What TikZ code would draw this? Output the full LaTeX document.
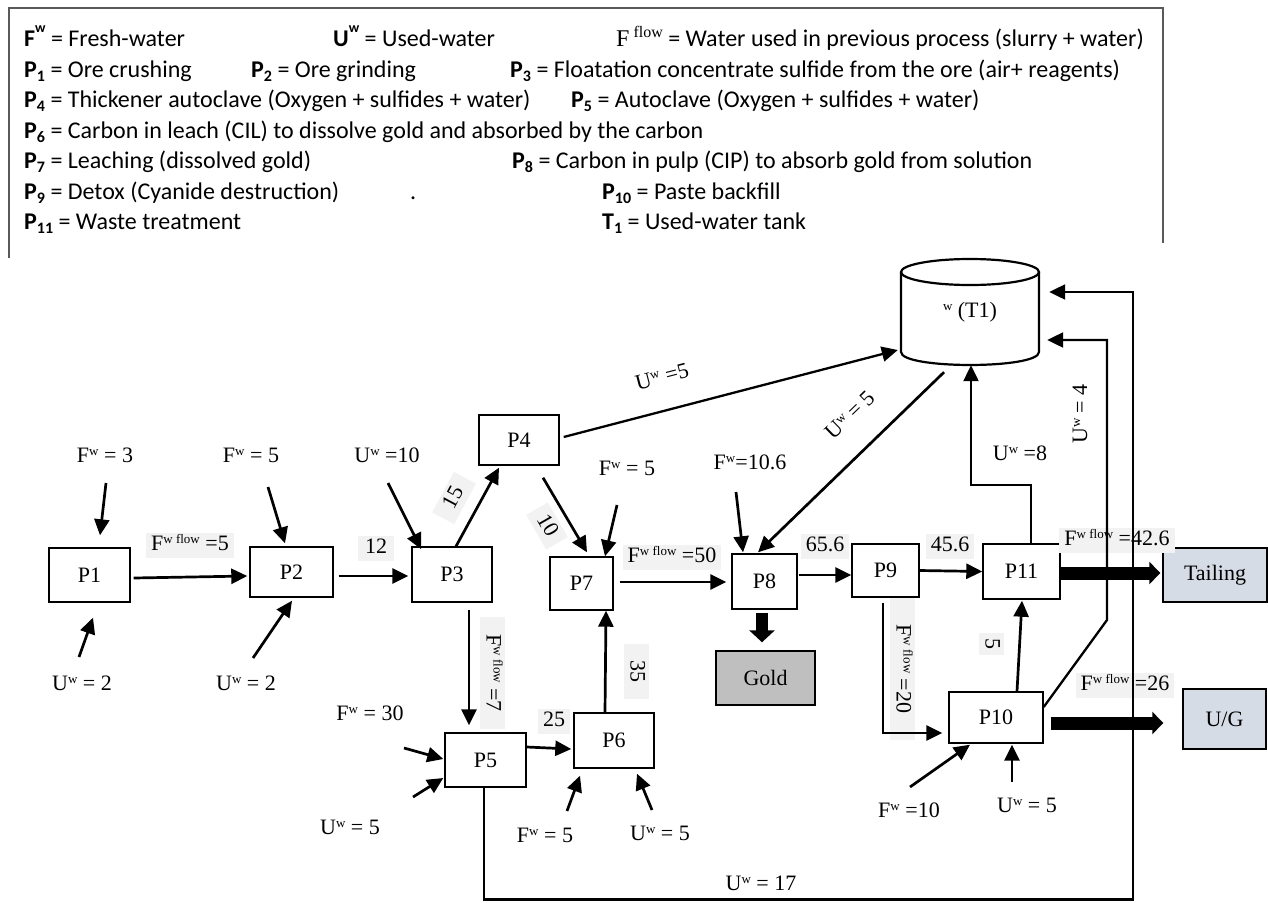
\documentclass[tikz,border=0pt]{standalone}
\usepackage{fontspec}
\setmainfont{Carlito}
\newfontfamily\tms{Liberation Serif}
\usetikzlibrary{arrows.meta,calc}
\definecolor{lblbg}{HTML}{F2F2F2}
\definecolor{goldfill}{HTML}{BFBFBF}
\definecolor{tailfill}{HTML}{D6DCE5}
\newcommand\lgP[1]{\textbf{P\raisebox{-4pt}{\fontsize{16}{16}\selectfont\bfseries #1}}}
\newcommand\lgT[1]{\textbf{T\raisebox{-4pt}{\fontsize{16}{16}\selectfont\bfseries #1}}}
\newcommand\lgsup[1]{\textbf{#1}\raisebox{14pt}{\fontsize{14}{14}\selectfont\bfseries w}}
\newcommand\sw[1]{\raisebox{7pt}{\fontsize{13}{13}\selectfont #1}}
\tikzset{
  lg/.style={anchor=base west, inner sep=0pt, font=\fontsize{24}{28}\selectfont},
  legline/.style={line width=1.3pt, draw=black!65},
  pbox/.style={draw, line width=1.4pt, inner sep=0pt, font=\tms\fontsize{22}{26}\selectfont},
  lbl/.style={inner sep=0pt, font=\tms\fontsize{22}{26}\selectfont},
  vbg/.style={fill=lblbg, inner xsep=5pt, inner ysep=2pt, text height=16pt, text depth=5pt, font=\tms\fontsize{22}{26}\selectfont},
  flow/.style={-{Triangle[length=16pt,width=15pt]}, line width=2.7pt},
  pipe/.style={-{Triangle[length=16pt,width=15pt]}, line width=2.3pt},
  fat/.style={-{Triangle[length=11pt,width=22pt]}, line width=13pt},
  fatv/.style={-{Triangle[length=12pt,width=25pt]}, line width=12pt},
  cyl/.style={line width=2.2pt},
}
\begin{document}
\begin{tikzpicture}[x=1pt,y=-1pt]
\useasboundingbox (0,0) rectangle (1268,902);
% ---------------- legend ----------------
\draw[legline] (9,258) -- (9,8) -- (1163,8) -- (1163,243);
\node[lg] (l1a) at (24,46) {\lgsup{F} = Fresh-water};
\node[lg] (l1b) at (333,46) {\lgsup{U} = Used-water};
\node[lg] (l1c) at (616,46) {{\tms F\,\raisebox{9pt}{\fontsize{16}{16}\selectfont flow}} = Water used in previous process (slurry + water)};
\node[lg] (l2a) at (24,77) {\lgP{1} = Ore crushing};
\node[lg] (l2b) at (251,77) {\lgP{2} = Ore grinding};
\node[lg] (l2c) at (510,77) {\lgP{3} = Floatation concentrate sulfide from the ore (air+ reagents)};
\node[lg] (l3a) at (24,107) {\lgP{4} = Thickener autoclave (Oxygen + sulfides + water)};
\node[lg] (l3b) at (571,107) {\lgP{5} = Autoclave (Oxygen + sulfides + water)};
\node[lg] (l4a) at (24,138) {\lgP{6} = Carbon in leach (CIL) to dissolve gold and absorbed by the carbon};
\node[lg] (l5a) at (24,168) {\lgP{7} = Leaching (dissolved gold)};
\node[lg] (l5b) at (512,168) {\lgP{8} = Carbon in pulp (CIP) to absorb gold from solution};
\node[lg] (l6a) at (24,199) {\lgP{9} = Detox (Cyanide destruction)};
\node[lg] (l6b) at (410,199) {.};
\node[lg] (l6c) at (602,199) {\lgP{10} = Paste backfill};
\node[lg] (l7a) at (24,229) {\lgP{11} = Waste treatment};
\node[lg] (l7b) at (602,229) {\lgT{1} = Used-water tank};
% ---------------- tank ----------------
\draw[cyl, fill=white] (901,272) -- (901,352) .. controls (901,369.3) and (1039,369.3) .. (1039,352) -- (1039,272);
\draw[cyl, fill=white] (970,272) ellipse [x radius=69pt, y radius=13pt];
\node[lbl, minimum width=138pt, minimum height=106pt] (t1) at (970,312) {\sw{w} (T1)};
% ---------------- boxes ----------------
\node[pbox, minimum width=81pt, minimum height=54pt] (p1) at (89.5,575) {P1};
\node[pbox, minimum width=83pt, minimum height=50pt] (p2) at (291.5,572) {P2};
\node[pbox, minimum width=80pt, minimum height=55pt] (p3) at (452,574.5) {P3};
\node[pbox, minimum width=80pt, minimum height=50pt] (p4) at (519,440) {P4};
\node[pbox, minimum width=81pt, minimum height=54pt] (p5) at (485.5,760) {P5};
\node[pbox, minimum width=80pt, minimum height=55pt] (p6) at (614,740.5) {P6};
\node[pbox, minimum width=63pt, minimum height=53pt] (p7) at (581.5,583.5) {P7};
\node[pbox, minimum width=65pt, minimum height=55pt] (p8) at (764.5,581.5) {P8};
\node[pbox, minimum width=67pt, minimum height=53pt] (p9) at (885.5,570.5) {P9};
\node[pbox, minimum width=94pt, minimum height=51pt] (p10) at (996,717.5) {P10};
\node[pbox, minimum width=77pt, minimum height=55pt] (p11) at (1021.5,571.5) {P11};
\node[pbox, fill=tailfill, minimum width=104pt, minimum height=54pt] (tail) at (1215,575) {Tailing};
\node[pbox, fill=tailfill, minimum width=83pt, minimum height=60pt] (ug) at (1224.5,719) {U/G};
\node[pbox, fill=goldfill, minimum width=99pt, minimum height=54pt] (gold) at (765.5,678) {Gold};
% ---------------- shaded labels ----------------
\node[vbg] (fl1) at (190,545) {F\sw{w flow} =5};
\node[vbg, inner xsep=7pt] (n12) at (376,548) {12};
\node[vbg, rotate=62, minimum width=46pt] (n15) at (454,498) {15};
\node[vbg, rotate=-60, minimum width=40pt] (n10) at (547,526) {10};
\node[vbg] (fl50) at (672,557) {F\sw{w flow} =50};
\node[vbg] (n656) at (825,546) {65.6};
\node[vbg] (n456) at (950,546) {45.6};
\node[vbg] (fl426) at (1117,540) {F\sw{w flow} =42.6};
\node[vbg] (fl26) at (1125,685) {F\sw{w flow} =26};
\node[vbg, rotate=-90, minimum width=142pt] (fl20) at (902,669) {F\sw{w flow} =20};
\node[vbg, rotate=-90, minimum width=22pt] (n5) at (991,644) {5};
\node[vbg, rotate=-90, minimum width=112pt] (fl7) at (492,673) {F\sw{w flow} =7};
\node[vbg] (n25) at (554,721) {25};
\node[vbg, rotate=-90, minimum width=55pt] (n35) at (636,671) {35};
% ---------------- plain labels ----------------
\node[lbl] (lf3) at (105,455) {F\sw{w} = 3};
\node[lbl] (lf5a) at (251,455) {F\sw{w} = 5};
\node[lbl] (lu10) at (387,455) {U\sw{w} =10};
\node[lbl] (lu2a) at (82,683) {U\sw{w} = 2};
\node[lbl] (lu2b) at (246,683) {U\sw{w} = 2};
\node[lbl] (lf5b) at (627,468) {F\sw{w} = 5};
\node[lbl] (lf106) at (750,462) {F\sw{w}=10.6};
\node[lbl] (lu8) at (1020,453) {U\sw{w} =8};
\node[lbl, rotate=90] (lu4) at (1080,414) {U\sw{w} = 4};
\node[lbl, rotate=14.6] (lu5a) at (662,377) {U\sw{w} =5};
\node[lbl, rotate=44] (lu5b) at (850,415) {U\sw{w} = 5};
\node[lbl] (lf30) at (370,713) {F\sw{w} = 30};
\node[lbl] (lu5c) at (350,827) {U\sw{w} = 5};
\node[lbl] (lf5c) at (545,835) {F\sw{w} = 5};
\node[lbl] (lu5d) at (660,833) {U\sw{w} = 5};
\node[lbl] (lf10) at (909,810) {F\sw{w} =10};
\node[lbl] (lu5e) at (1027,805) {U\sw{w} = 5};
\node[lbl] (lu17) at (761,883) {U\sw{w} = 17};
% ---------------- free ends and waypoints ----------------
\coordinate (s1) at (106,483);
\coordinate (s2) at (79,657);
\coordinate (s3) at (268,487);
\coordinate (s4) at (253,658);
\coordinate (s5) at (388,483);
\coordinate (s6) at (617,505);
\coordinate (s7) at (736,492);
\coordinate (s8) at (404,748);
\coordinate (s9) at (413,797);
\coordinate (s10) at (567,811);
\coordinate (s11) at (652,810);
\coordinate (s12) at (910,787);
\coordinate (s13) at (1012,782);
\coordinate (w4a) at (1107,620);
\coordinate (w4b) at (1107,340);
\coordinate (rb) at (1133,899.5);
% ---------------- connectors ----------------
\draw[flow] (s1) -- ([shift={(10.5,-12)}]p1.north);
\draw[flow] (s2) -- ([shift={(3.5,15)}]p1.south);
\draw[flow] ([shift={(3,3)}]p1.east) -- ([shift={(-2,4)}]p2.west);
\draw[flow] (s3) -- ([shift={(-6.5,-3)}]p2.north);
\draw[flow] (s4) -- ([shift={(0.5,3)}]p2.south);
\draw[flow] ([shift={(5,4)}]p2.east) -- ([shift={(-3,1.5)}]p3.west);
\draw[flow] (s5) -- ([shift={(10,3)}]p3.north west);
\draw[flow] ([shift={(4,0)}]p3.north) -- ([shift={(-20,2)}]p4.south);
\draw[flow] ([shift={(24,12)}]p4.south) -- ([shift={(5.5,-4)}]p7.north);
\draw[flow] (s6) -- ([shift={(23.5,0)}]p7.north);
\draw[pipe] ([shift={(4,-3)}]p4.east) -- ([shift={(-3,38)}]t1.west);
\draw[flow] ([shift={(-26,7)}]t1.south) -- ([shift={(-6.5,-1)}]p8.north);
\draw[flow] (s7) -- ([shift={(-21.5,-1)}]p8.north);
\draw[flow] ([shift={(6,-1.5)}]p7.east) -- ([shift={(-5,0.5)}]p8.west);
\draw[fatv] ([shift={(-2.5,3)}]p8.south) -- ([shift={(-3.5,-8)}]gold.north);
\draw[flow] ([shift={(1,-6.5)}]p8.east) -- ([shift={(0,4.5)}]p9.west);
\draw[flow] (p9.east) -- (p11.west);
\draw[flow] ([shift={(-2.5,5)}]p9.south) |- ([shift={(-6,15.5)}]p10.west);
\draw[flow] ([shift={(21,0)}]p10.north) -- ([shift={(0.5,1)}]p11.south);
\draw[pipe] ([shift={(9.5,0)}]p11.north) -- ++(0,-58) -| ([shift={(1,0)}]t1.south);
\draw[fat] ([shift={(0,1.5)}]p11.east) -- ([shift={(-2,-2)}]tail.west);
\draw[fat] ([shift={(7,5.5)}]p10.east) -- ([shift={(-19,4)}]ug.west);
\draw[pipe] ([shift={(0,-10.5)}]p10.east) -- (w4a) -- (w4b) -- ([shift={(8,28)}]t1.east);
\draw[pipe] ([shift={(-1.5,0)}]p5.south) |- (rb) |- ([shift={(10,-20)}]t1.east);
\draw[flow] (s8) -- ([shift={(-1,-1)}]p5.west);
\draw[flow] (s9) -- ([shift={(-1,18)}]p5.west);
\draw[flow] ([shift={(17,7)}]p3.south) -- ([shift={(-16.5,-7)}]p5.north);
\draw[flow] ([shift={(0,-13)}]p5.east) -- ([shift={(-2,8.5)}]p6.west);
\draw[flow] ([shift={(-9,0)}]p6.north) -- ([shift={(24.5,0)}]p7.south);
\draw[flow] (s10) -- ([shift={(-34,7)}]p6.south);
\draw[flow] (s11) -- ([shift={(23,5)}]p6.south);
\draw[flow] (s12) -- ([shift={(-26,1)}]p10.south);
\draw[flow] (s13) -- ([shift={(16,1)}]p10.south);
\end{tikzpicture}
\end{document}
